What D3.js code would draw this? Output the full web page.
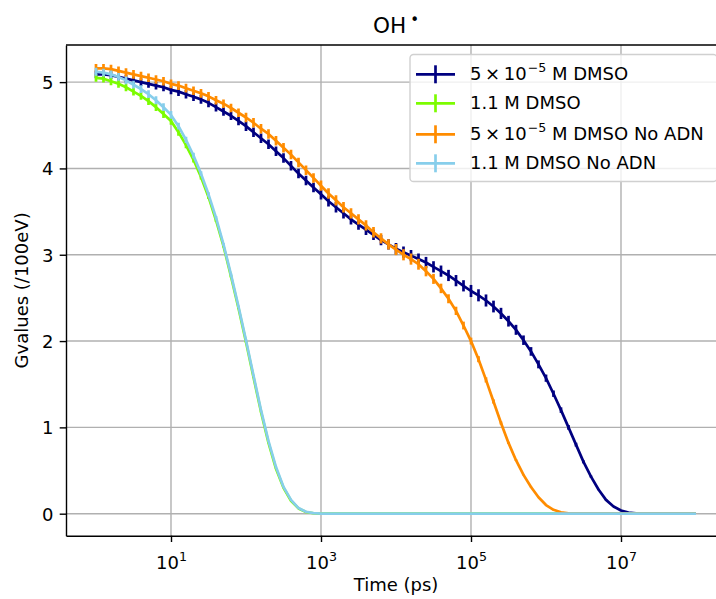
<!DOCTYPE html>
<html>
<head>
<meta charset="utf-8">
<script src="https://cdn.jsdelivr.net/npm/d3@7"></script>
<style>
  body { margin: 0; background: #fff; }
  svg { display: block; font-family: "DejaVu Sans", sans-serif; }
</style>
</head>
<body>
<svg id="chart" width="716" height="599"></svg>
<script>
// sampling times, as log10(t / ps)
var logTime = [
  0.0, 0.1, 0.2, 0.3, 0.4, 0.5, 0.6, 0.7, 0.8, 0.9,
  1.0, 1.1, 1.2, 1.3, 1.4, 1.5, 1.6, 1.7, 1.8, 1.9,
  2.0, 2.1, 2.2, 2.3, 2.4, 2.5, 2.6, 2.7, 2.8, 2.9,
  3.0, 3.1, 3.2, 3.3, 3.4, 3.5, 3.6, 3.7, 3.8, 3.9,
  4.0, 4.1, 4.2, 4.3, 4.4, 4.5, 4.6, 4.7, 4.8, 4.9,
  5.0, 5.1, 5.2, 5.3, 5.4, 5.5, 5.6, 5.7, 5.8, 5.9,
  6.0, 6.1, 6.2, 6.3, 6.4, 6.5, 6.6, 6.7, 6.8, 6.9,
  7.0, 7.1, 7.2, 7.3, 7.4, 7.5, 7.6, 7.7, 7.8, 7.9,
  8.0];

// G values (/100eV) for each run
var gLowDmso = [
  5.09, 5.09, 5.08, 5.06, 5.04, 5.02, 5.00, 4.98, 4.96, 4.94,
  4.91, 4.89, 4.86, 4.83, 4.80, 4.76, 4.71, 4.66, 4.61, 4.55,
  4.49, 4.42, 4.35, 4.28, 4.20, 4.12, 4.03, 3.94, 3.86, 3.78,
  3.70, 3.62, 3.55, 3.48, 3.41, 3.35, 3.29, 3.23, 3.17, 3.12,
  3.07, 3.03, 2.99, 2.95, 2.91, 2.86, 2.81, 2.76, 2.70, 2.64,
  2.58, 2.53, 2.47, 2.40, 2.32, 2.23, 2.13, 2.01, 1.88, 1.73,
  1.57, 1.39, 1.20, 1.00, 0.80, 0.60, 0.43, 0.28, 0.16, 0.084,
  0.037, 0.013, 0.004, 0.001, 0, 0, 0, 0, 0, 0,
  0];
var gHighDmso = [
  5.05, 5.04, 5.01, 4.98, 4.94, 4.89, 4.84, 4.78, 4.71, 4.63,
  4.55, 4.42, 4.27, 4.10, 3.90, 3.67, 3.40, 3.10, 2.75, 2.38,
  1.99, 1.58, 1.18, 0.82, 0.52, 0.30, 0.15, 0.061, 0.020, 0.005,
  0.001, 0, 0, 0, 0, 0, 0, 0, 0, 0,
  0, 0, 0, 0, 0, 0, 0, 0, 0, 0,
  0, 0, 0, 0, 0, 0, 0, 0, 0, 0,
  0, 0, 0, 0, 0, 0, 0, 0, 0, 0,
  0, 0, 0, 0, 0, 0, 0, 0, 0, 0,
  0];
var gLowDmsoNoAdn = [
  5.16, 5.16, 5.15, 5.13, 5.11, 5.09, 5.07, 5.05, 5.03, 5.01,
  4.98, 4.96, 4.93, 4.90, 4.87, 4.835, 4.79, 4.75, 4.70, 4.645,
  4.59, 4.53, 4.46, 4.40, 4.32, 4.24, 4.16, 4.07, 3.98, 3.89,
  3.80, 3.71, 3.63, 3.55, 3.48, 3.41, 3.34, 3.26, 3.19, 3.12,
  3.06, 3.00, 2.95, 2.89, 2.81, 2.72, 2.61, 2.49, 2.35, 2.18,
  2.00, 1.79, 1.55, 1.30, 1.05, 0.82, 0.62, 0.45, 0.31, 0.19,
  0.10, 0.045, 0.016, 0.005, 0.001, 0, 0, 0, 0, 0,
  0, 0, 0, 0, 0, 0, 0, 0, 0, 0,
  0];
var gHighDmsoNoAdn = [
  5.12, 5.11, 5.09, 5.06, 5.02, 4.97, 4.92, 4.86, 4.79, 4.71,
  4.62, 4.49, 4.33, 4.15, 3.94, 3.70, 3.43, 3.12, 2.77, 2.40,
  2.01, 1.60, 1.20, 0.84, 0.54, 0.31, 0.16, 0.065, 0.022, 0.006,
  0.001, 0, 0, 0, 0, 0, 0, 0, 0, 0,
  0, 0, 0, 0, 0, 0, 0, 0, 0, 0,
  0, 0, 0, 0, 0, 0, 0, 0, 0, 0,
  0, 0, 0, 0, 0, 0, 0, 0, 0, 0,
  0, 0, 0, 0, 0, 0, 0, 0, 0, 0,
  0];

// error bar half heights
var errLowDmso = [
  0.045, 0.045, 0.045, 0.045, 0.045, 0.045, 0.045, 0.045, 0.045, 0.045,
  0.05, 0.05, 0.05, 0.05, 0.05, 0.05, 0.05, 0.05, 0.05, 0.05,
  0.055, 0.055, 0.055, 0.055, 0.055, 0.055, 0.055, 0.055, 0.055, 0.055,
  0.06, 0.06, 0.06, 0.06, 0.06, 0.06, 0.06, 0.06, 0.06, 0.06,
  0.065, 0.065, 0.065, 0.065, 0.065, 0.065, 0.065, 0.065, 0.065, 0.065,
  0.07, 0.07, 0.07, 0.068, 0.065, 0.062, 0.058, 0.055, 0.05, 0.046,
  0.042, 0.037, 0.032, 0.027, 0.022, 0.017, 0.012, 0.008, 0.005, 0.003,
  0.002, 0.001, 0, 0, 0, 0, 0, 0, 0, 0,
  0];
var errHighDmso = [
  0.045, 0.045, 0.045, 0.045, 0.045, 0.045, 0.045, 0.045, 0.045, 0.045,
  0.044, 0.04, 0.036, 0.032, 0.028, 0.024, 0.02, 0.016, 0.013, 0.01,
  0.008, 0.006, 0.004, 0.003, 0.002, 0.001, 0, 0, 0, 0,
  0, 0, 0, 0, 0, 0, 0, 0, 0, 0,
  0, 0, 0, 0, 0, 0, 0, 0, 0, 0,
  0, 0, 0, 0, 0, 0, 0, 0, 0, 0,
  0, 0, 0, 0, 0, 0, 0, 0, 0, 0,
  0, 0, 0, 0, 0, 0, 0, 0, 0, 0,
  0];
var errLowDmsoNoAdn = [
  0.05, 0.05, 0.05, 0.05, 0.05, 0.05, 0.05, 0.05, 0.05, 0.05,
  0.05, 0.05, 0.05, 0.05, 0.05, 0.05, 0.05, 0.05, 0.05, 0.05,
  0.055, 0.055, 0.055, 0.055, 0.055, 0.055, 0.055, 0.055, 0.055, 0.055,
  0.06, 0.06, 0.06, 0.06, 0.06, 0.06, 0.06, 0.06, 0.06, 0.06,
  0.065, 0.065, 0.065, 0.063, 0.06, 0.058, 0.055, 0.052, 0.048, 0.045,
  0.04, 0.035, 0.03, 0.024, 0.018, 0.013, 0.009, 0.006, 0.004, 0.002,
  0.001, 0.001, 0, 0, 0, 0, 0, 0, 0, 0,
  0, 0, 0, 0, 0, 0, 0, 0, 0, 0,
  0];
var errHighDmsoNoAdn = [
  0.045, 0.045, 0.045, 0.045, 0.045, 0.045, 0.045, 0.045, 0.045, 0.045,
  0.044, 0.04, 0.036, 0.032, 0.028, 0.024, 0.02, 0.016, 0.013, 0.01,
  0.008, 0.006, 0.004, 0.003, 0.002, 0.001, 0, 0, 0, 0,
  0, 0, 0, 0, 0, 0, 0, 0, 0, 0,
  0, 0, 0, 0, 0, 0, 0, 0, 0, 0,
  0, 0, 0, 0, 0, 0, 0, 0, 0, 0,
  0, 0, 0, 0, 0, 0, 0, 0, 0, 0,
  0, 0, 0, 0, 0, 0, 0, 0, 0, 0,
  0];

var xTicks = [1e1, 1e3, 1e5, 1e7];
var xTickExp = ["1", "3", "5", "7"];
var yTicks = [0, 1, 2, 3, 4, 5];

// series in drawing order; legend label pieces: [before sup, sup, after sup]
var series = [
  {label: ["5\u2009\u00d7\u200910", "\u22125", " M DMSO"], color: "#000080", values: gLowDmso, err: errLowDmso},
  {label: ["1.1 M DMSO", "", ""], color: "#7cfc00", values: gHighDmso, err: errHighDmso},
  {label: ["5\u2009\u00d7\u200910", "\u22125", " M DMSO No ADN"], color: "#ff8c00", values: gLowDmsoNoAdn, err: errLowDmsoNoAdn},
  {label: ["1.1 M DMSO No ADN", "", ""], color: "#87ceeb", values: gHighDmsoNoAdn, err: errHighDmsoNoAdn}
];

var svg = d3.select("#chart");
var plotLeft = 66, plotRight = 726, plotTop = 45, plotBottom = 535.7;
var lw = 2.7;

var x = d3.scaleLog()
    .domain([Math.pow(10, -0.4), Math.pow(10, 8.4)])
    .range([plotLeft, plotRight]);
var y = d3.scaleLinear()
    .domain([-0.255, 5.43])
    .range([plotBottom, plotTop]);

svg.append("defs").append("clipPath").attr("id", "plot-clip")
    .append("rect")
    .attr("x", plotLeft).attr("y", plotTop)
    .attr("width", plotRight - plotLeft).attr("height", plotBottom - plotTop);

// grid
var grid = svg.append("g").attr("stroke", "#b0b0b0").attr("stroke-width", 1.4);
grid.selectAll("line.gx").data(xTicks).enter().append("line")
    .attr("x1", function (d) { return x(d); }).attr("x2", function (d) { return x(d); })
    .attr("y1", plotTop).attr("y2", plotBottom);
grid.selectAll("line.gy").data(yTicks).enter().append("line")
    .attr("x1", plotLeft).attr("x2", plotRight)
    .attr("y1", function (d) { return y(d); }).attr("y2", function (d) { return y(d); });

// data
var plot = svg.append("g").attr("clip-path", "url(#plot-clip)");
var line = d3.line()
    .x(function (d) { return x(d.t); })
    .y(function (d) { return y(d.v); });

series.forEach(function (s) {
    var pts = logTime.map(function (lt, i) {
        return {t: Math.pow(10, lt), v: s.values[i], e: s.err[i]};
    });
    var g = plot.append("g");
    g.selectAll("line").data(pts.filter(function (d) { return d.e > 0; }))
        .enter().append("line")
        .attr("x1", function (d) { return x(d.t); })
        .attr("x2", function (d) { return x(d.t); })
        .attr("y1", function (d) { return y(d.v - d.e); })
        .attr("y2", function (d) { return y(d.v + d.e); })
        .attr("stroke", s.color)
        .attr("stroke-width", lw);
    g.append("path")
        .datum(pts)
        .attr("d", line)
        .attr("fill", "none")
        .attr("stroke", s.color)
        .attr("stroke-width", lw)
        .attr("stroke-linejoin", "round");
});

// axes
var xAxis = d3.axisBottom(x).tickValues(xTicks).tickSize(6.3).tickSizeOuter(0).tickPadding(6.3).tickFormat("");
var gx = svg.append("g").attr("transform", "translate(0," + plotBottom + ")").call(xAxis);
var yAxis = d3.axisLeft(y).tickValues(yTicks).tickSize(6.3).tickSizeOuter(0).tickPadding(6.3)
    .tickFormat(d3.format("d"));
var gy = svg.append("g").attr("transform", "translate(" + plotLeft + ",0)").call(yAxis);

[gx, gy].forEach(function (g) {
    g.select(".domain").attr("stroke", "#000").attr("stroke-width", 1.4);
    g.selectAll(".tick line").attr("stroke", "#000").attr("stroke-width", 1.4);
    g.selectAll(".tick text").attr("font-size", 18).attr("fill", "#000")
        .attr("font-family", "DejaVu Sans, sans-serif");
});
gy.selectAll(".tick text").attr("dy", "0.36em");

gx.selectAll(".tick").each(function (d, i) {
    var t = d3.select(this).select("text").text(null)
        .attr("y", 0).attr("dy", null)
        .attr("transform", "translate(0,33)")
        .attr("text-anchor", "middle");
    t.append("tspan").text("10");
    t.append("tspan").attr("font-size", 12.6).attr("dy", -8).text(xTickExp[i]);
});

// top and right frame
svg.append("line").attr("x1", plotLeft).attr("x2", plotRight).attr("y1", plotTop).attr("y2", plotTop)
    .attr("stroke", "#000").attr("stroke-width", 1.4);
svg.append("line").attr("x1", plotRight).attr("x2", plotRight).attr("y1", plotTop).attr("y2", plotBottom)
    .attr("stroke", "#000").attr("stroke-width", 1.4);

// labels
svg.append("text").attr("x", (plotLeft + plotRight) / 2).attr("y", 591)
    .attr("text-anchor", "middle").attr("font-size", 18).text("Time (ps)");
svg.append("text")
    .attr("transform", "translate(28," + ((plotTop + plotBottom) / 2) + ") rotate(-90)")
    .attr("text-anchor", "middle").attr("font-size", 18).text("Gvalues (/100eV)");

var title = svg.append("text").attr("x", (plotLeft + plotRight) / 2).attr("y", 32.5)
    .attr("text-anchor", "middle").attr("font-size", 21.6);
title.append("tspan").text("OH");
title.append("tspan").attr("dx", 4).attr("dy", -7.5).attr("font-size", 15).text("\u2022");

// legend
var legend = svg.append("g");
legend.append("rect")
    .attr("x", 410).attr("y", 54.5).attr("width", 307).attr("height", 127)
    .attr("rx", 3.6)
    .attr("fill", "#fff").attr("fill-opacity", 0.8)
    .attr("stroke", "#d0d0d0").attr("stroke-width", 1.4);
var rowY = [74.3, 103.3, 134.3, 163.3];
series.forEach(function (s, i) {
    var ry = rowY[i];
    legend.append("line").attr("x1", 416).attr("x2", 455).attr("y1", ry).attr("y2", ry)
        .attr("stroke", s.color).attr("stroke-width", lw);
    legend.append("line").attr("x1", 435.5).attr("x2", 435.5).attr("y1", ry - 9).attr("y2", ry + 9)
        .attr("stroke", s.color).attr("stroke-width", lw);
    var t = legend.append("text").attr("x", 470).attr("y", ry + 6).attr("font-size", 18);
    t.append("tspan").text(s.label[0]);
    if (s.label[1]) {
        t.append("tspan").attr("font-size", 12.6).attr("dy", -8).attr("dx", 1).text(s.label[1]);
        t.append("tspan").attr("dy", 8).text(s.label[2]);
    }
});
</script>
</body>
</html>
